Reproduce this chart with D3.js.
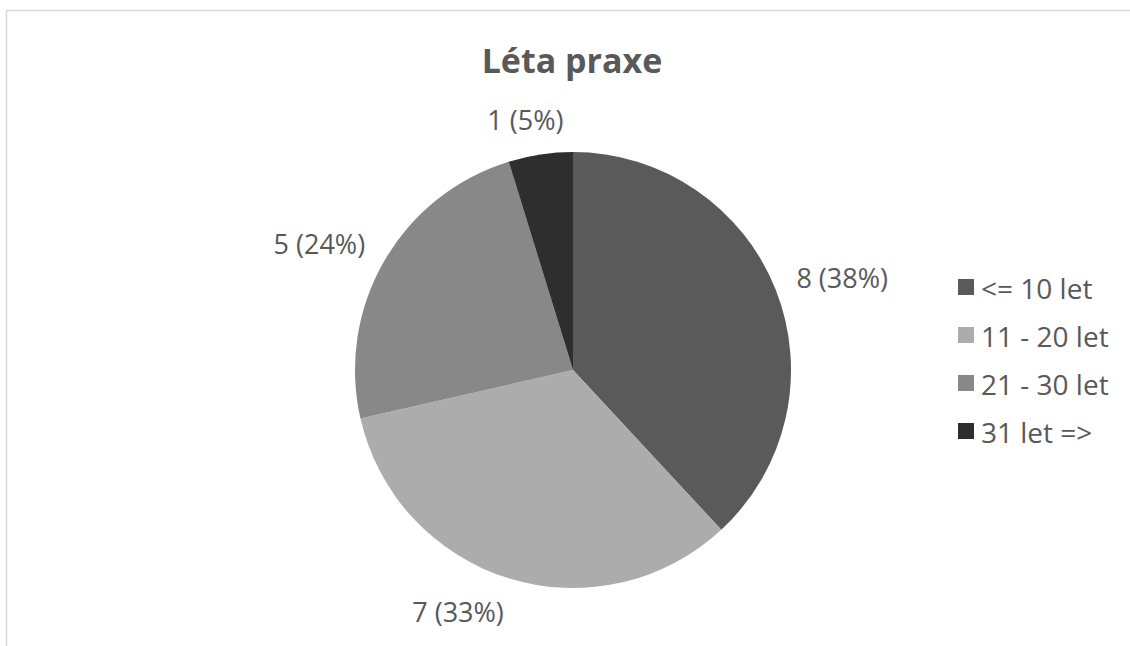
<!DOCTYPE html>
<html>
<head>
<meta charset="utf-8">
<script src="https://cdnjs.cloudflare.com/ajax/libs/d3/7.8.5/d3.min.js"></script>
<style>
  body { margin: 0; background: #fff; }
  text { font-family: "Open Sans", Lato, sans-serif; fill: #595959; }
</style>
</head>
<body>
<div id="chart"></div>
<script>
var categories = ["<= 10 let", "11 - 20 let", "21 - 30 let", "31 let =>"];
var values = [8, 7, 5, 1];
var colors = ["#5a5a5a", "#acacac", "#888888", "#2e2e2e"];
var title = "Léta praxe";

(function () {
	var width = 1130, height = 646;
	var cx = 573, cy = 370, radius = 218;

	var svg = d3.select("#chart").append("svg")
		.attr("width", width)
		.attr("height", height);

	// chart area border (runs off the right and bottom)
	svg.append("rect")
		.attr("x", 6.5).attr("y", 10.5)
		.attr("width", width).attr("height", height)
		.attr("fill", "#fff").attr("stroke", "#d9d9d9").attr("stroke-width", 1.5);

	svg.append("text")
		.attr("x", 572).attr("y", 73)
		.attr("text-anchor", "middle")
		.attr("font-size", 34).attr("font-weight", "bold")
		.text(title);

	var total = d3.sum(values);
	var pie = d3.pie().sort(null).value(function (d) { return d; });
	var arcs = pie(values);
	var arc = d3.arc().innerRadius(0).outerRadius(radius);

	var g = svg.append("g").attr("transform", "translate(" + cx + "," + cy + ")");

	g.selectAll(".slice").data(arcs)
		.enter().append("path").attr("class", "slice")
			.attr("d", arc)
			.attr("fill", function (d, i) { return colors[i]; });

	// outside end labels
	var labelR = radius + 22;
	var labels = g.selectAll(".lbl").data(arcs)
		.enter().append("text").attr("class", "lbl")
			.attr("font-size", 27)
			.attr("text-anchor", "middle")
			.attr("dominant-baseline", "central")
			.text(function (d) {
				return d.data + " (" + Math.round(d.data / total * 100) + "%)";
			});
	labels.each(function (d) {
		var a = (d.startAngle + d.endAngle) / 2;
		var s = Math.sin(a), c = Math.cos(a);
		var w = this.getComputedTextLength(), h = 26;
		var k = Math.sign(s) * Math.max(0, Math.min(1, (Math.abs(s) - 0.08) * 4.5));
		var x = labelR * s + w / 2 * k;
		var y = -labelR * c - h / 2 * c;
		d3.select(this).attr("x", x).attr("y", y);
	});

	// legend
	var legend = svg.append("g").attr("transform", "translate(958,287)");
	var item = legend.selectAll(".item").data(categories)
		.enter().append("g").attr("class", "item")
			.attr("transform", function (d, i) { return "translate(0," + (i * 48) + ")"; });
	item.append("rect")
		.attr("x", 0).attr("y", -8).attr("width", 16).attr("height", 16)
		.attr("fill", function (d, i) { return colors[i]; });
	item.append("text")
		.attr("x", 23).attr("y", 1)
		.attr("dominant-baseline", "central")
		.attr("font-size", 28)
		.text(function (d) { return d; });
})();
</script>
</body>
</html>
